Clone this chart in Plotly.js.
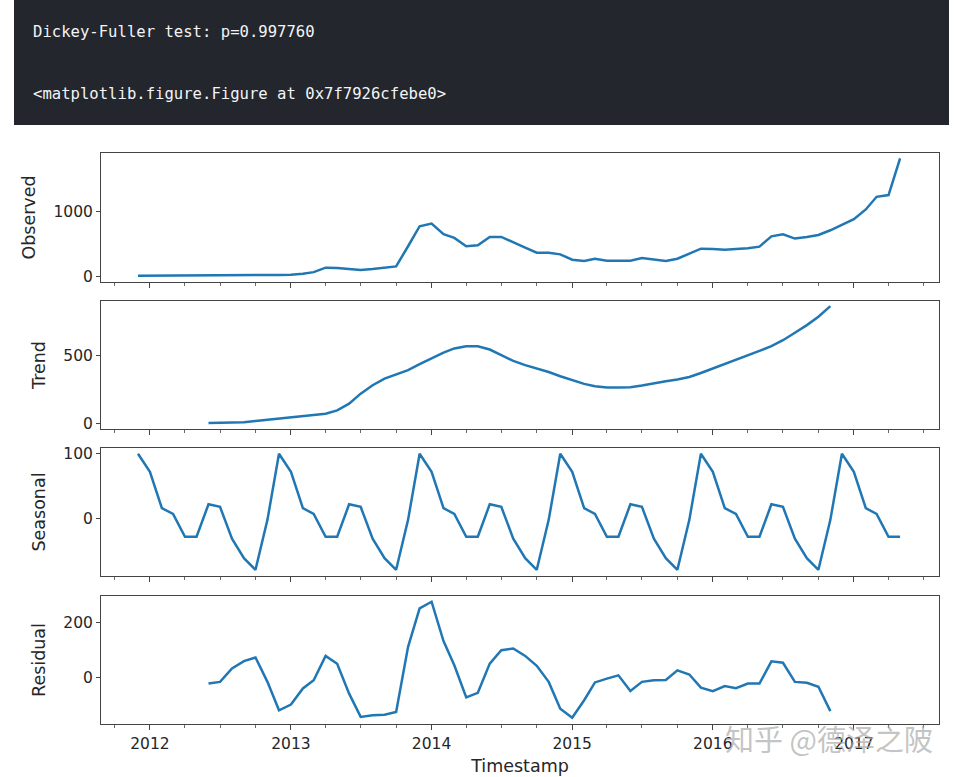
<!DOCTYPE html>
<html>
<head>
<meta charset="utf-8">
<script src="https://cdn.plot.ly/plotly-3.0.1.min.js"></script>
<style>html,body{margin:0;padding:0;background:#fff;}#chart{width:957px;height:777px;}</style>
</head>
<body>
<div id="chart"></div>
<script>
// ---- data ----
const startMonth = "2011-12";   // first monthly observation
const nMonths = 66;
const observed = [8,8,7,7,7,8,9,10,11,12,13,15,18,22,37,62,130,125,115,95,110,130,150,460,768,810,645,588,460,474,603,603,526,439,361,361,335,253,232,268,237,237,237,279,253,232,268,346,423,418,408,418,428,454,613,644,578,603,634,706,794,876,1026,1221,1247,1814];
const trend = [null,null,null,null,null,null,5,5,7,10,20,29,39,46,53,61,73,97,146,219,280,329,361,390,434,478,519,549,565,565,541,500,458,427,402,377,346,317,290,273,263,263,266,278,295,309,322,341,370,402,434,463,497,531,565,609,663,719,780,858,null,null,null,null,null,null];
const seasonal = [100,72,16,7,-28,-28,22,18,-31,-61,-79,-2,
                  100,72,16,7,-28,-28,22,18,-31,-61,-79,-2,
                  100,72,16,7,-28,-28,22,18,-31,-61,-79,-2,
                  100,72,16,7,-28,-28,22,18,-31,-61,-79,-2,
                  100,72,16,7,-28,-28,22,18,-31,-61,-79,-2,
                  100,72,16,7,-28,-28];
const residual = [null,null,null,null,null,null,-22,-16,33,60,73,-16,-120,-99,-40,-10,79,50,-59,-144,-138,-136,-126,112,253,277,133,45,-73,-56,51,100,106,79,43,-16,-114,-147,-83,-18,-4,8,-49,-16,-10,-9,26,11,-37,-50,-31,-39,-22,-22,59,54,-16,-19,-34,-123,null,null,null,null,null,null];
const panelNames = ["Observed","Trend","Seasonal","Residual"];
const headerLines = ["Dickey-Fuller test: p=0.997760", "<matplotlib.figure.Figure at 0x7f7926cfebe0>"];
const watermark = "知乎 @德泽之陂";

// month dates
const dates = [];
{
  let [y, m] = startMonth.split("-").map(Number);
  for (let i = 0; i < nMonths; i++) {
    dates.push(y + "-" + String(m).padStart(2, "0") + "-01");
    m++; if (m > 12) { m = 1; y++; }
  }
}

// ---- layout helpers ----
const L = 101, R = 939, T = 153, B = 724;
const W = R - L, H = B - T;
const px = x => (x - L) / W;
const py = y => (B - y) / H;

const series = [observed, trend, seasonal, residual];
const yRanges = [[-90, 1895], [-39, 895], [-88.6, 108.8], [-170, 298]];
const yDticks = [1000, 500, 100, 200];
const yDomains = [[py(282), py(153)], [py(429), py(301)], [py(576), py(448)], [py(724), py(596)]];

const lineColor = "#2077b4";
const axColor = "#444";
const txt = "#262626";
const fontFam = "DejaVu Sans, sans-serif";

const traces = series.map((s, i) => ({
  type: "scatter", mode: "lines",
  x: dates, y: s,
  xaxis: i === 0 ? "x" : "x" + (i + 1),
  yaxis: i === 0 ? "y" : "y" + (i + 1),
  line: { color: lineColor, width: 2.5 },
  connectgaps: false, showlegend: false, hoverinfo: "skip"
}));

const layout = {
  width: 957, height: 777,
  margin: { l: L, r: 957 - R, t: T, b: 777 - B, pad: 0 },
  paper_bgcolor: "#ffffff", plot_bgcolor: "#ffffff",
  font: { family: fontFam, color: txt, size: 15.5 },
  showlegend: false,
  shapes: [{
    type: "rect", xref: "paper", yref: "paper",
    x0: px(14), x1: px(949), y0: py(125), y1: py(0),
    fillcolor: "#23262c", line: { width: 0 }, layer: "below"
  }],
  annotations: [
    { text: headerLines[0], xref: "paper", yref: "paper", x: px(31), y: py(32), xanchor: "left", yanchor: "middle", showarrow: false,
      font: { family: "DejaVu Sans Mono, monospace", size: 15.6, color: "#f2f4f7" } },
    { text: headerLines[1].replace(/</g, "&lt;").replace(/>/g, "&gt;"), xref: "paper", yref: "paper", x: px(31), y: py(94), xanchor: "left", yanchor: "middle", showarrow: false,
      font: { family: "DejaVu Sans Mono, monospace", size: 15.6, color: "#f2f4f7" } },
    { text: watermark, xref: "paper", yref: "paper", x: px(829), y: py(738), xanchor: "center", yanchor: "middle", showarrow: false,
      font: { family: "Noto Sans CJK SC, sans-serif", size: 29, color: "rgba(170,170,170,0.7)" } }
  ]
};

for (let i = 0; i < 4; i++) {
  const xa = {
    type: "date", range: ["2011-08-27", "2017-08-10"],
    domain: [0, 1], anchor: i === 0 ? "y" : "y" + (i + 1),
    tick0: "2012-01-01", dtick: "M12", tickformat: "%Y",
    ticks: "outside", ticklen: 5, tickwidth: 1, tickcolor: axColor,
    minor: { dtick: "M3", tick0: "2012-01-01", ticks: "outside", ticklen: 2.5, tickwidth: 0.8, tickcolor: axColor, showgrid: false },
    showticklabels: i === 3, showgrid: false, zeroline: false,
    showline: true, mirror: true, linecolor: axColor, linewidth: 1,
    tickfont: { size: 15.5, color: txt }, automargin: false
  };
  if (i > 0) xa.matches = "x";
  if (i === 3) xa.title = { text: "Timestamp", font: { size: 17.5, color: txt }, standoff: 8 };
  const ya = {
    domain: yDomains[i], range: yRanges[i], anchor: i === 0 ? "x" : "x" + (i + 1),
    tick0: 0, dtick: yDticks[i],
    ticks: "outside", ticklen: 4, tickwidth: 1, tickcolor: axColor,
    showgrid: false, zeroline: false,
    showline: true, mirror: true, linecolor: axColor, linewidth: 1,
    tickfont: { size: 15.5, color: txt }, automargin: false,
    title: { text: panelNames[i], font: { size: 17.5, color: txt }, standoff: 13 }
  };
  layout[i === 0 ? "xaxis" : "xaxis" + (i + 1)] = xa;
  layout[i === 0 ? "yaxis" : "yaxis" + (i + 1)] = ya;
}

Plotly.newPlot("chart", traces, layout, { staticPlot: true, displayModeBar: false });
</script>
</body>
</html>
